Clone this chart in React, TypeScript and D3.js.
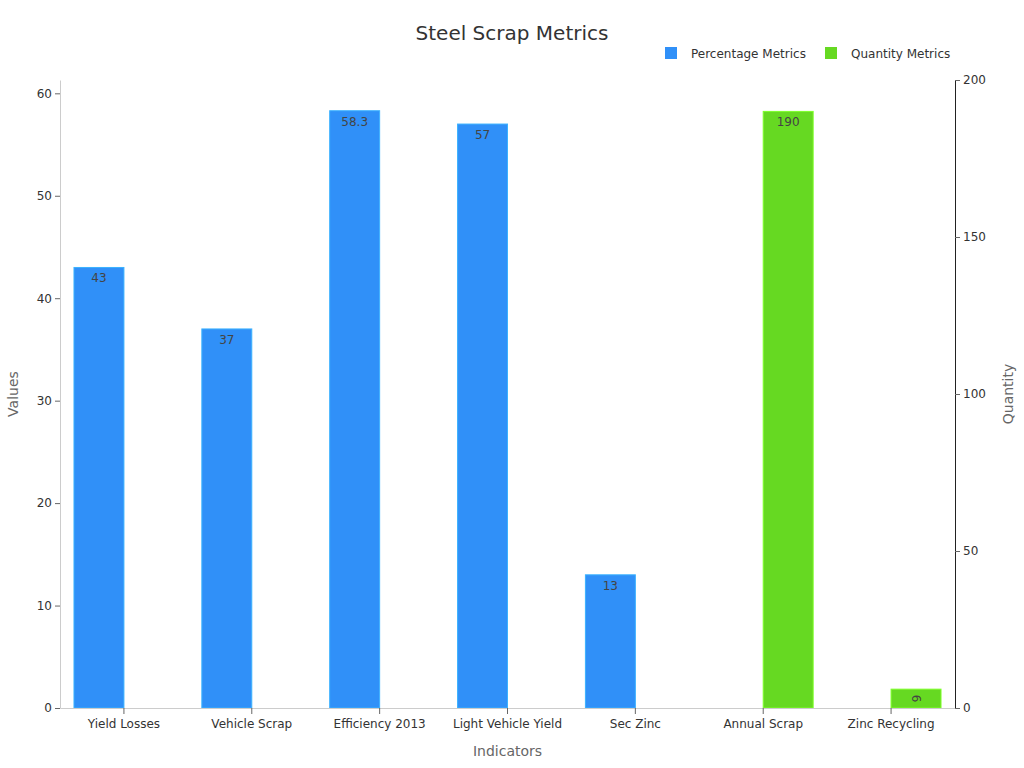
import { useRef, useEffect } from "react";
import * as d3 from "d3";

const categories = [
  "Yield Losses",
  "Vehicle Scrap",
  "Efficiency 2013",
  "Light Vehicle Yield",
  "Sec Zinc",
  "Annual Scrap",
  "Zinc Recycling",
];
const percentValues: (number | null)[] = [43, 37, 58.3, 57, 13, null, null];
const quantityValues: (number | null)[] = [null, null, null, null, null, 190, 6];
const leftTicks = [0, 10, 20, 30, 40, 50, 60];
const rightTicks = [0, 50, 100, 150, 200];

const BLUE = "#3090f8";
const GREEN = "#66d922";
const FONT = "DejaVu Sans, sans-serif";

export default function App() {
  const svgRef = useRef<SVGSVGElement>(null);

  useEffect(() => {
    if (!svgRef.current) return;
    const svg = d3.select(svgRef.current);
    svg.selectAll("*").remove();

    const width = 1024;
    const height = 768;
    const margin = { top: 80, right: 69, bottom: 60, left: 60 };
    const w = width - margin.left - margin.right;
    const h = height - margin.top - margin.bottom;

    svg.append("text")
      .attr("x", width / 2)
      .attr("y", 40)
      .attr("text-anchor", "middle")
      .attr("font-family", FONT)
      .attr("font-size", 20)
      .attr("fill", "#333")
      .text("Steel Scrap Metrics");

    // Legend
    const legend = [
      { label: "Percentage Metrics", color: BLUE, x: 665 },
      { label: "Quantity Metrics", color: GREEN, x: 825 },
    ];
    legend.forEach((l) => {
      svg.append("rect")
        .attr("x", l.x).attr("y", 47).attr("width", 12).attr("height", 12)
        .attr("fill", l.color);
      svg.append("text")
        .attr("x", l.x + 26).attr("y", 58)
        .attr("font-family", FONT).attr("font-size", 12).attr("fill", "#333")
        .text(l.label);
    });

    const g = svg.append("g").attr("transform", `translate(${margin.left},${margin.top})`);

    const x = d3.scaleBand().domain(categories).range([0, w]);
    const sub = d3.scaleBand().domain(["p", "q"]).range([0, x.bandwidth()]).paddingOuter(0.28);
    const yL = d3.scaleLinear().domain([0, 61.3]).range([h, 0]);
    const yR = d3.scaleLinear().domain([0, 200]).range([h, 0]);

    const drawBars = (vals: (number | null)[], key: string, color: string, y: d3.ScaleLinear<number, number>) => {
      categories.forEach((c, i) => {
        const v = vals[i];
        if (v == null) return;
        const bx = (x(c) || 0) + (sub(key) || 0);
        const bw = sub.bandwidth();
        const by = y(v);
        g.append("rect")
          .attr("x", bx).attr("y", by)
          .attr("width", bw).attr("height", h - by)
          .attr("fill", color)
          .attr("stroke", d3.color(color)!.brighter(0.6).formatHex())
          .attr("stroke-width", 1);
        const t = g.append("text")
          .attr("font-family", FONT).attr("font-size", 12).attr("fill", "#444")
          .attr("text-anchor", "middle")
          .attr("dominant-baseline", "central")
          .text(String(v));
        if (h - by < 25) {
          t.attr("transform", `translate(${bx + bw / 2},${by + (h - by) / 2}) rotate(90)`);
        } else {
          t.attr("x", bx + bw / 2).attr("y", by + 11);
        }
      });
    };
    drawBars(percentValues, "p", BLUE, yL);
    drawBars(quantityValues, "q", GREEN, yR);

    // Bottom axis
    const xAxis = g.append("g")
      .attr("transform", `translate(0,${h})`)
      .call(d3.axisBottom(x).tickSize(6).tickSizeOuter(0));
    xAxis.select(".domain").attr("stroke", "#ccc");
    xAxis.selectAll(".tick line").attr("stroke", "#666");
    xAxis.selectAll("text").attr("font-family", FONT).attr("font-size", 12).attr("fill", "#333").attr("dy", "0.95em");

    // Left axis
    const left = g.append("g").call(d3.axisLeft(yL).tickValues(leftTicks).tickSize(5).tickSizeOuter(0));
    left.select(".domain").attr("stroke", "#ccc");
    left.selectAll(".tick line").attr("stroke", "#666");
    left.selectAll("text").attr("font-family", FONT).attr("font-size", 12).attr("fill", "#333");

    // Right axis
    const right = g.append("g")
      .attr("transform", `translate(${w},0)`)
      .call(d3.axisRight(yR).tickValues(rightTicks).tickSize(5).tickSizeOuter(0));
    right.select(".domain").attr("stroke", "#222");
    right.selectAll(".tick line").attr("stroke", "#666");
    right.selectAll("text").attr("font-family", FONT).attr("font-size", 12).attr("fill", "#333");

    // Axis titles
    svg.append("text")
      .attr("x", margin.left + w / 2).attr("y", 756)
      .attr("text-anchor", "middle")
      .attr("font-family", FONT).attr("font-size", 14).attr("fill", "#666")
      .text("Indicators");
    svg.append("text")
      .attr("transform", `translate(18,${margin.top + h / 2}) rotate(-90)`)
      .attr("text-anchor", "middle")
      .attr("font-family", FONT).attr("font-size", 14).attr("fill", "#666")
      .text("Values");
    svg.append("text")
      .attr("transform", `translate(1013,${margin.top + h / 2}) rotate(-90)`)
      .attr("text-anchor", "middle")
      .attr("font-family", FONT).attr("font-size", 14).attr("fill", "#666")
      .text("Quantity");
  }, []);

  return <svg ref={svgRef} width={1024} height={768} style={{ position: "absolute", left: 0, top: 0 }} />;
}
